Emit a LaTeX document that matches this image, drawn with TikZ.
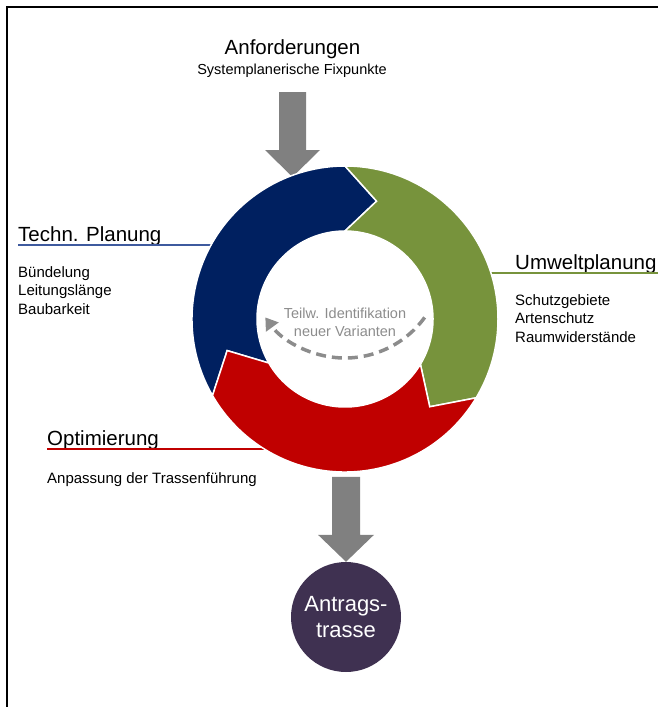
\documentclass[tikz,border=0pt]{standalone}
\usepackage{fontspec}
\setmainfont{Liberation Sans}
\usetikzlibrary{arrows.meta,calc}
\definecolor{techblau}{HTML}{002060}
\definecolor{umweltgruen}{HTML}{77933C}
\definecolor{optirot}{HTML}{C00000}
\definecolor{pfeilgrau}{HTML}{808080}
\definecolor{antraglila}{HTML}{3F3151}
\definecolor{linieblau}{HTML}{3E5A9E}
\definecolor{textgrau}{HTML}{8C8C8C}

\begin{document}
\begin{tikzpicture}[x=1pt,y=1pt,
		titel/.style={font=\fontsize{20.5}{24}\selectfont, inner sep=0pt},
		liste/.style={font=\fontsize{15}{18.5}\selectfont, align=left, inner sep=0pt},
		blockpfeil/.style={fill=pfeilgrau},
		segment/.style={draw=white, line width=1.5pt},
		unterstrich/.style={line width=1.2pt}]
		\useasboundingbox (0,0) rectangle (658,-707);
		\draw[line width=1.6pt] (7,-707) -- (7,-7) -- (658,-7);
		
		\coordinate (c) at (345,-319);
		\coordinate (d) at (345,-259.5);
		
		\node[titel, anchor=base] (anf) at (292.5,-54) {Anforderungen};
		\node[font=\fontsize{14.5}{17}\selectfont, inner sep=0pt, anchor=base] (fix) at (292,-74) {Systemplanerische Fixpunkte};
		\coordinate (anfspitze) at (292.5,-177);
		\fill[blockpfeil] (anfspitze) -- ++(-27.5,27) -- ++(14,0) -- ++(0,58) -- ++(27,0) -- ++(0,-58) -- ++(14,0) -- cycle;
		
		\node[titel, anchor=base west] (tech) at (18,-241) {Techn. Planung};
		\draw[unterstrich, draw=linieblau] ([yshift=-4pt]tech.base west) -- (213,-245);
		\node[liste, anchor=base west] (techliste) at (18,-314) {Bündelung\\Leitungslänge\\Baubarkeit};
		
		\node[titel, anchor=base west] (umwelt) at (515,-269) {Umweltplanung};
		\draw[unterstrich, draw=umweltgruen] (489,-273) -- (658,-273);
		\node[liste, anchor=base west] (umweltliste) at (515,-342) {Schutzgebiete\\Artenschutz\\Raumwiderstände};
		
		\node[titel, anchor=base west] (opti) at (47,-445) {Optimierung};
		\draw[unterstrich, draw=optirot] ([yshift=-4pt]opti.base west) -- (266,-449);
		\node[liste, anchor=base west] (optiliste) at (47,-483) {Anpassung der Trassenführung};
		
		\begin{scope}[shift={(c)}]
			\path[segment, fill=techblau] (210:153) arc[start angle=210, end angle=90, radius=153] -- (75:122) -- (90:88) arc[start angle=90, end angle=210, radius=88] -- (195:122) -- cycle;
			\path[segment, fill=umweltgruen] (90:153) arc[start angle=90, end angle=-31, radius=153] -- (-46:122) -- (-31:88) arc[start angle=-31, end angle=90, radius=88] -- (75:122) -- cycle;
			\path[segment, fill=optirot] (-31:153) arc[start angle=-31, end angle=-150, radius=153] -- (-165:122) -- (-150:88) arc[start angle=-150, end angle=-31, radius=88] -- (-46:122) -- cycle;
		\end{scope}
		
		\draw[textgrau, line width=3.5pt, dash pattern=on 10pt off 6pt, -{Triangle[length=12pt,width=15pt]}] ($(d)+(-36:98.5)$) arc[start angle=-36, end angle=-144, radius=98.5];
		\node[font=\fontsize{14.5}{18}\selectfont, text=textgrau, align=center, inner sep=0pt, anchor=base] (neu) at (345,-336) {Teilw. Identifikation\\neuer Varianten};
		
		\node[circle, fill=antraglila, minimum size=110pt, inner sep=0pt, text=white, align=center, font=\fontsize{22}{26}\selectfont] (antrag) at (346,-617) {Antrags-\\trasse};
		\fill[blockpfeil] (antrag.north) -- ++(-28,27) -- ++(14,0) -- ++(0,58) -- ++(28,0) -- ++(0,-58) -- ++(14,0) -- cycle;
	\end{tikzpicture}
\end{document}
